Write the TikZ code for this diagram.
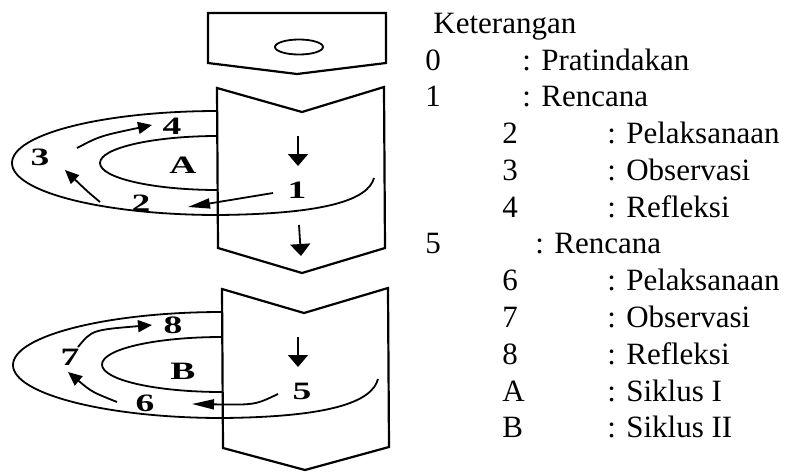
\documentclass[tikz,border=0pt]{standalone}
\usepackage{fontspec}
\setmainfont{Liberation Serif}
\usepackage{graphicx}
\usetikzlibrary{arrows.meta,shapes.geometric}
\newcommand{\wlab}[1]{\scalebox{1.5}[1]{#1}}

\begin{document}
\begin{tikzpicture}[x=0.5pt,y=-0.5pt,
    box/.style={line width=1.1pt},
    ring/.style={line width=0.9pt},
    lab/.style={font=\fontsize{12.5}{14}\selectfont\bfseries, inner sep=0pt},
    txt/.style={font=\fontsize{15.5}{18}\selectfont, anchor=base west, inner sep=0pt},
    cyc/.style={line width=0.9pt, -{Triangle[length=7pt,width=6pt]}},
    dn/.style={line width=0.9pt, -{Triangle[length=6pt,width=10pt]}},
    lt/.style={line width=0.9pt, -{Triangle[length=11pt,width=5pt]}}]
    \useasboundingbox (0,0) rectangle (794,472);
    % blocks
    \draw[box] (208,13) -- (208,63) -- (297,74) -- (386,63) -- (386,13) -- cycle;
    \node[draw, ellipse, line width=0.9pt, minimum width=24pt, minimum height=7.5pt, inner sep=0pt] (pre) at (299,47) {};
    \draw[box] (217,88) -- (302,112) -- (384,87) -- (385,248) -- (302,273) -- (218,248) -- cycle;
    \draw[box] (222,289) -- (304,313) -- (388,288) -- (389,447) -- (305,470) -- (223,448) -- cycle;
    % cycle A
    \draw[ring] (218,111) .. controls (104,111) and (12,134) .. (12,163)
        .. controls (12,192) and (104,215) .. (218,215)
        .. controls (325,214) and (368,200) .. (374,178);
    \draw[ring] (218,136) .. controls (153,136) and (100,148) .. (100,163)
        .. controls (100,178) and (153,190) .. (218,190);
    % cycle B
    \draw[ring] (222,312) .. controls (107,312) and (13,336) .. (13,365)
        .. controls (13,394) and (107,418) .. (222,418)
        .. controls (330,417) and (372,402) .. (378,379);
    \draw[ring] (222,337) .. controls (156,337) and (102,349) .. (102,364.5)
        .. controls (102,380) and (156,392) .. (222,392);
    % labels
    \node[lab] (c1) at (297,190) {\wlab{1}};
    \node[lab] (c2) at (141,203) {\wlab{2}};
    \node[lab] (c3) at (40,157) {\wlab{3}};
    \node[lab] (c4) at (172,126) {\wlab{4}};
    \node[lab] (cA) at (183,165) {\wlab{A}};
    \node[lab] (c5) at (302,391) {\wlab{5}};
    \node[lab] (c6) at (145,403) {\wlab{6}};
    \node[lab] (c7) at (70,357) {\wlab{7}};
    \node[lab] (c8) at (173,325) {\wlab{8}};
    \node[lab] (cB) at (183,371) {\wlab{B}};
    % arrows
    \coordinate (dA1) at (298,136);
    \coordinate (dA2) at (298,166);
    \coordinate (dM1) at (299,225);
    \coordinate (dM2) at (301,256);
    \coordinate (dB1) at (298,337);
    \coordinate (dB2) at (298,367);
    \coordinate (p12) at (273,193);
    \coordinate (q12) at (188,207);
    \coordinate (p23) at (100,202);
    \coordinate (q23) at (65,170);
    \coordinate (p34) at (77,148);
    \coordinate (q34) at (152,125);
    \coordinate (p56) at (278,394);
    \coordinate (q56) at (192,404);
    \coordinate (p67) at (117,402);
    \coordinate (q67) at (68,372);
    \coordinate (p78) at (78,347);
    \coordinate (q78) at (152,325);
    \draw[dn] (dA1) -- (dA2);
    \draw[dn] (dM1) -- (dM2);
    \draw[dn] (dB1) -- (dB2);
    \draw[lt] (p12) -- (q12);
    \draw[cyc] (p23) .. controls (88,192) .. (q23);
    \draw[cyc] (p34) .. controls (100,136) .. (q34);
    \draw[lt] (p56) .. controls (255,405) .. (q56);
    \draw[cyc] (p67) .. controls (92,392) .. (q67);
    \draw[cyc] (p78) .. controls (92,330) .. (q78);
    % legend
    \node[txt] (key) at (433,33) {Keterangan};
    \node[txt] (k0) at (425,70) {0};
    \node[txt] (t0) at (522,70) {: Pratindakan};
    \node[txt] (k1) at (425,106.6) {1};
    \node[txt] (t1) at (522,106.6) {: Rencana};
    \node[txt] (k2) at (502,143.4) {2};
    \node[txt] (t2) at (607,143.4) {: Pelaksanaan};
    \node[txt] (k3) at (502,180.2) {3};
    \node[txt] (t3) at (607,180.2) {: Observasi};
    \node[txt] (k4) at (502,217) {4};
    \node[txt] (t4) at (607,217) {: Refleksi};
    \node[txt] (k5) at (425,253.8) {5};
    \node[txt] (t5) at (535,253.8) {: Rencana};
    \node[txt] (k6) at (502,290.6) {6};
    \node[txt] (t6) at (607,290.6) {: Pelaksanaan};
    \node[txt] (k7) at (502,327.4) {7};
    \node[txt] (t7) at (607,327.4) {: Observasi};
    \node[txt] (k8) at (502,364.2) {8};
    \node[txt] (t8) at (607,364.2) {: Refleksi};
    \node[txt] (kA) at (502,401) {A};
    \node[txt] (tA) at (607,401) {: Siklus I};
    \node[txt] (kB) at (502,437.8) {B};
    \node[txt] (tB) at (607,437.8) {: Siklus II};
\end{tikzpicture}
\end{document}
